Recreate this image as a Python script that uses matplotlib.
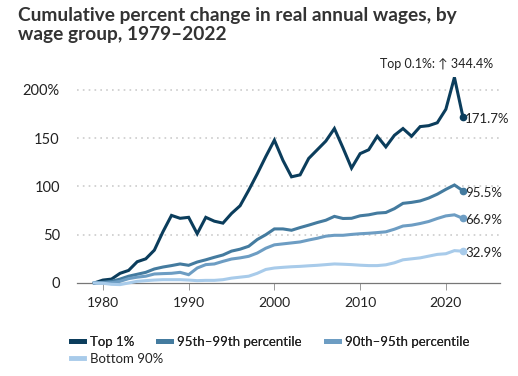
import matplotlib
matplotlib.use("Agg")
import matplotlib.pyplot as plt
from matplotlib.lines import Line2D

plt.rcParams['font.family'] = ['Lato', 'DejaVu Sans']

years = list(range(1979, 2023))

top1 = [0, 3, 4, 10, 13, 22, 25, 34, 53, 70, 67, 68, 51, 68, 64, 62, 72, 80, 96, 113,
        131, 148, 127, 110, 112, 129, 138, 147, 160, 140, 119, 134, 138, 152, 141, 153,
        160, 152, 162, 163, 166, 180, 213, 171.7]
p95_99 = [0, 0.7, 1.7, 4, 7, 9, 11, 14.5, 16.5, 18, 19.7, 18.3, 21.7, 24, 26.6, 29, 33,
          35, 38, 45, 50, 56, 56, 54.6, 57.4, 59.9, 62.6, 65, 69, 66.8, 67, 69.6, 70.6,
          72.4, 73, 77, 82.5, 83.5, 85, 88, 92, 97, 101.5, 95.5]
p90_95 = [0, 0, 0.3, 1.7, 4.5, 6, 7, 9.3, 9.7, 10, 11, 8.6, 15.5, 19, 19.7, 22.4, 24.8,
          26, 27.6, 31, 36, 39.5, 40.5, 41.5, 42.5, 44.5, 46.3, 48.5, 49.4, 49.4, 50.3,
          51, 51.5, 52.2, 53, 55.7, 59, 59.9, 61.6, 63.7, 66.8, 69.5, 70.6, 66.9]
bottom90 = [0, -0.3, -1.4, -1.7, 0, 1.7, 2.4, 3, 3.4, 3.4, 3.4, 3, 2.4, 2.7, 2.7, 3.4, 5,
            6, 7, 10, 14, 15.5, 16.2, 16.8, 17.2, 17.8, 18.3, 19, 19.7, 19.4, 19, 18.4,
            18, 18, 18.8, 20.9, 24, 25, 26, 27.8, 29.6, 30.3, 33.5, 32.9]

series = [("Top 1%", top1, '#0b3d5c'),
          ("95th\u201399th percentile", p95_99, '#447b9f'),
          ("90th\u201395th percentile", p90_95, '#6d9dc3'),
          ("Bottom 90%", bottom90, '#a8cbea')]
end_labels = ["171.7%", "95.5%", "66.9%", "32.9%"]

fig = plt.figure(figsize=(5.18, 3.76), dpi=100)
ax = fig.add_axes([0.149, 0.2346, 0.816, 0.5724])

for (name, vals, col), lab in zip(series, end_labels):
    ax.plot(years, vals, color=col, linewidth=2.2, solid_joinstyle='miter', zorder=3)
    ax.plot(years[-1], vals[-1], 'o', color=col, markersize=4.5, zorder=4)
    ax.annotate(lab, (years[-1], vals[-1]), xytext=(1.5, -1.5), textcoords='offset points',
                va='center', ha='left', fontsize=9.5, color='#222222', annotation_clip=False)

ax.annotate("Top 0.1%: \u2191 344.4%", (1, 1), xycoords='axes fraction',
            xytext=(-5, 6), textcoords='offset points', ha='right', va='center',
            fontsize=9, color='#222222', annotation_clip=False)

ax.set_xlim(1977, 2026.3)
ax.set_ylim(-5, 218)
ax.set_yticks([0, 50, 100, 150, 200])
ax.set_yticklabels(['0', '50', '100', '150', '200%'])
ax.set_xticks([1980, 1990, 2000, 2010, 2020])

for s in ['top', 'right', 'left']:
    ax.spines[s].set_visible(False)
ax.spines['bottom'].set_position(('data', 0))
ax.spines['bottom'].set_color('#777777')
ax.spines['bottom'].set_linewidth(0.9)
ax.spines['bottom'].set_zorder(2)

ax.tick_params(axis='y', length=0, pad=12.5, labelsize=10.5, labelcolor='#222222')
ax.tick_params(axis='x', length=5, width=0.7, color='#999999', pad=5,
               labelsize=10, labelcolor='#222222')
for y in [50, 100, 150, 200]:
    ax.axhline(y, color='#cccccc', linewidth=1.2, linestyle=(0, (1, 2.5)), zorder=1)

fig.text(18 / 518, 1 - 7 / 376, "Cumulative percent change in real annual wages, by\nwage group, 1979\u20132022",
         ha='left', va='top', fontsize=13.8, fontweight='bold', color='#333333', linespacing=1.15)

handles = [Line2D([0], [0], color=c, linewidth=3.5) for _, _, c in series]
names = [n for n, _, _ in series]
leg1 = fig.legend(handles[:3], names[:3], loc='upper left', bbox_to_anchor=(71 / 518, 1 - 336 / 376),
                  ncol=3, frameon=False, fontsize=9.5, handlelength=1.0, handletextpad=0.45,
                  columnspacing=1.8, borderpad=0, borderaxespad=0)
for t in leg1.get_texts():
    t.set_color('#222222')
leg2 = fig.legend(handles[3:], names[3:], loc='upper left', bbox_to_anchor=(71 / 518, 1 - 353 / 376),
                  ncol=1, frameon=False, fontsize=9.5, handlelength=1.0, handletextpad=0.45,
                  borderpad=0, borderaxespad=0)
for t in leg2.get_texts():
    t.set_color('#222222')
fig.add_artist(leg1)

fig.savefig('out.png', dpi=100)
